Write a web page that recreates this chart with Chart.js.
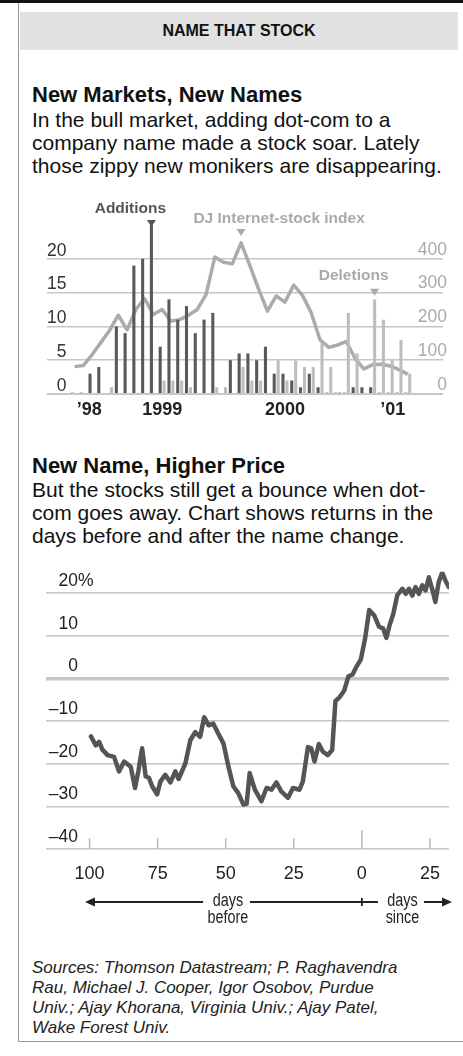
<!DOCTYPE html>
<html>
<head>
<meta charset="utf-8">
<script src="https://cdn.jsdelivr.net/npm/chart.js@4.4.1/dist/chart.umd.min.js"></script>
<style>
body { margin: 0; background: #fff; font-family: 'Liberation Sans', Arial, sans-serif; color: #111; }
#page { position: relative; width: 463px; height: 1056px; overflow: hidden; }
.abs { position: absolute; white-space: nowrap; }
#rule { left: 0; top: 0; width: 463px; height: 3px; background: #111; }
#frame { left: 18px; top: 3px; width: 445px; height: 1038px; border-left: 1px solid #999; border-bottom: 1px solid #999; }
#head { left: 20px; top: 12px; width: 438px; height: 38px; line-height: 38px; background: #e2e2e2; text-align: center; font-weight: bold; font-size: 16px; }
.title { left: 32px; font-weight: bold; font-size: 22px; line-height: 26px; }
.body { left: 32px; font-size: 21px; line-height: 23px; }
.src { left: 32px; font-style: italic; font-size: 17px; line-height: 20px; color: #222; }
</style>
</head>
<body>
<div id="page">
  <div id="rule" class="abs"></div>
  <div id="frame" class="abs"></div>
  <div id="head" class="abs">NAME THAT STOCK</div>

  <div class="abs title" style="top:82px">New Markets, New Names</div>
  <div class="abs body" style="top:108px">In the bull market, adding dot-com to a<br>company name made a stock soar. Lately<br>those zippy new monikers are disappearing.</div>
  <canvas id="bars" class="abs" width="463" height="234" style="left:0;top:190px"></canvas>

  <div class="abs title" style="top:453px">New Name, Higher Price</div>
  <div class="abs body" style="top:478px">But the stocks still get a bounce when dot-<br>com goes away. Chart shows returns in the<br>days before and after the name change.</div>
  <canvas id="returns" class="abs" width="463" height="370" style="left:0;top:560px"></canvas>

  <div class="abs src" style="top:958px">Sources: Thomson Datastream; P. Raghavendra<br>Rau, Michael J. Cooper, Igor Osobov, Purdue<br>Univ.; Ajay Khorana, Virginia Univ.; Ajay Patel,<br>Wake Forest Univ.</div>
</div>
<script>
// monthly name changes (count) and DJ Internet index, Jan 1998 - Mar 2001
const months = ['Jan 98','Feb 98','Mar 98','Apr 98','May 98','Jun 98','Jul 98','Aug 98','Sep 98','Oct 98','Nov 98','Dec 98',
    'Jan 99','Feb 99','Mar 99','Apr 99','May 99','Jun 99','Jul 99','Aug 99','Sep 99','Oct 99','Nov 99','Dec 99',
    'Jan 00','Feb 00','Mar 00','Apr 00','May 00','Jun 00','Jul 00','Aug 00','Sep 00','Oct 00','Nov 00','Dec 00',
    'Jan 01','Feb 01','Mar 01'];
const additions = [0.2,0.2,3,4,0,10,9,19,20,25,7,14,11,13,9,11,12,0,5,6,6,5,7,3,3,2,1,3,1,0.2,0.2,0.2,1,1,1,0.2,0.2,0.2,0.2];
const deletions = [0,0,0,0,1,0,0,0,0,0,2,2,2,1,0,0,1,1,0,4,2,2,0,5,2,5,4,4,7.5,4,0.3,12,6,0,14,11,5,8,3];
const djIndex = [81,84,116,152,188,233,190,250,282,235,250,215,220,233,250,294,405,390,385,447,380,310,245,290,272,322,292,240,160,138,145,155,105,74,87,88,83,72,58];
const yearTicks = [1.7, 10, 24, 36.3];
const yearLabels = ['\u201998', '1999', '2000', '\u201901'];
const countTicksMax = 20;
const indexTicksMax = 400;

// returns around the name change (days, percent)
const days = [-99.5,-97.7,-96.5,-95.3,-93.4,-91,-89.2,-87.3,-84.9,-83.3,-82.1,-80.7,-79.4,-78.2,-77,-75.2,-74,-72.2,-70.3,-68.5,
    -67.3,-64.8,-63,-61.2,-59.4,-57.9,-56.3,-54.6,-52.7,-50.8,-49,-47.2,-45.4,-43.5,-42.3,-41.2,-39.3,-36.9,-35,-33.2,
    -31.4,-29.6,-27.1,-25.3,-22.9,-21.7,-19.8,-18.6,-17.4,-15.8,-14.3,-12.5,-10.9,-9.7,-8.3,-6.5,-4.9,-3.4,-2.2,-0.4,
    1.2,2.7,4.5,6.3,7.8,9,10.2,11.5,13,14.9,16.1,17.3,18.5,19.7,20.9,22.2,23.4,24.6,25.8,27,28.2,29.5,30.7,31.9];
const returns = [-13.6,-15.7,-14.9,-16.7,-18,-18.4,-21.8,-19.5,-20.7,-25.7,-21.8,-16.4,-23,-23.3,-25.3,-27.2,-24.2,-22.6,-24.4,-21.8,
    -23.6,-19.9,-14.5,-12.6,-13.7,-9.1,-11,-10.6,-13,-15.3,-20.7,-25.3,-26.9,-29.6,-29.4,-22.2,-26.1,-28.8,-25.7,-26.1,
    -24.4,-26.5,-28,-25.7,-26.1,-24.2,-16.1,-16.4,-19.5,-15.4,-17.2,-18,-16.8,-5.3,-4.5,-2.9,0.5,0.9,2.5,4.4,
    9.4,16,14.8,12.1,11.7,9.5,12.5,15,19.5,21,19.8,21,19.4,21.4,19.8,21.8,20.6,23.7,21,17.9,22.5,24.8,22.9,21.4];
const dayTicks = [-100, -75, -50, -25, 0, 25];
const returnTicksMax = 20;

Chart.defaults.font.family = "'Liberation Sans', Arial, sans-serif";
Chart.defaults.animation = false;

function pointer(c, x, tipY, color) {
    c.fillStyle = color;
    c.beginPath();
    c.moveTo(x - 4.5, tipY - 7);
    c.lineTo(x + 4.5, tipY - 7);
    c.lineTo(x, tipY);
    c.closePath();
    c.fill();
}

const topNotes = {
    id: 'topNotes',
    afterDatasetsDraw(chart) {
        const c = chart.ctx;
        const addBar = chart.getDatasetMeta(0).data[additions.indexOf(Math.max(...additions))];
        const delBar = chart.getDatasetMeta(1).data[deletions.indexOf(Math.max(...deletions))];
        const peak = chart.getDatasetMeta(2).data[djIndex.indexOf(Math.max(...djIndex))];
        c.save();
        c.font = "bold 15.5px 'Liberation Sans', Arial, sans-serif";
        c.textAlign = 'center';
        c.textBaseline = 'middle';
        pointer(c, addBar.x, addBar.y + 2, '#555');
        c.fillText('Additions', addBar.x - 21, addBar.y - 16);
        pointer(c, peak.x, peak.y - 7, '#aaa');
        c.fillText('DJ Internet-stock index', peak.x + 38, peak.y - 24);
        pointer(c, delBar.x, delBar.y - 3.5, '#aaa');
        c.fillText('Deletions', delBar.x - 21, delBar.y - 23.5);
        c.restore();
    }
};

const bars = new Chart(document.getElementById('bars').getContext('2d'), {
    type: 'bar',
    data: {
        labels: months,
        datasets: [{
            label: 'Additions',
            data: months.map((m, i) => ({x: i, y: additions[i]})),
            backgroundColor: '#595959',
            categoryPercentage: 0.9,
            barPercentage: 0.78,
            order: 1
        }, {
            label: 'Deletions',
            data: months.map((m, i) => ({x: i, y: deletions[i]})),
            backgroundColor: '#bdbdbd',
            categoryPercentage: 0.9,
            barPercentage: 0.78,
            order: 1
        }, {
            type: 'line',
            label: 'DJ Internet-stock index',
            data: months.map((m, i) => ({x: i, y: djIndex[i]})),
            yAxisID: 'y2',
            borderColor: '#ababab',
            borderWidth: 3.5,
            pointRadius: 0,
            tension: 0,
            borderJoinStyle: 'round',
            order: 2
        }]
    },
    options: {
        responsive: false,
        layout: {padding: {left: 47, right: 12, top: 35, bottom: 2}},
        plugins: {legend: {display: false}, tooltip: {enabled: false}},
        scales: {
            x: {
                type: 'linear',
                offset: false,
                min: -3.13,
                max: 42.02,
                grid: {display: false, drawTicks: false},
                border: {display: false},
                afterBuildTicks: s => { s.ticks = yearTicks.map(v => ({value: v})); },
                afterFit: s => { s.height = 28; },
                ticks: {
                    autoSkip: false,
                    maxRotation: 0,
                    padding: 5,
                    color: '#222',
                    font: {size: 18, weight: 'bold'},
                    callback: (v, i) => yearLabels[i]
                }
            },
            y: {
                position: 'left',
                min: 0,
                max: 25,
                afterBuildTicks: s => { s.ticks = s.ticks.filter(t => t.value <= countTicksMax); },
                grid: {
                    color: '#c6c6c6',
                    lineWidth: ctx => ctx.tick && ctx.tick.value === 0 ? 2 : 1.5,
                    drawTicks: false
                },
                border: {display: false},
                ticks: {stepSize: 5, mirror: true, crossAlign: 'far', padding: 0, labelOffset: -8, color: '#333', font: {size: 17.5}}
            },
            y2: {
                position: 'right',
                min: 0,
                max: 500,
                afterBuildTicks: s => { s.ticks = s.ticks.filter(t => t.value <= indexTicksMax); },
                grid: {display: false, drawTicks: false},
                border: {display: false},
                ticks: {stepSize: 100, mirror: true, crossAlign: 'near', padding: 4, labelOffset: -9, color: '#aaa', font: {size: 17.5}}
            }
        }
    },
    plugins: [topNotes]
});

function condensedText(c, text, x, y) {
    c.save();
    c.translate(x, y);
    c.scale(0.8, 1);
    c.fillText(text, 0, 0);
    c.restore();
}

function arrowHead(c, x, y, dir) {
    c.beginPath();
    c.moveTo(x, y);
    c.lineTo(x - dir * 10, y - 4.5);
    c.lineTo(x - dir * 10, y + 4.5);
    c.closePath();
    c.fill();
}

const returnNotes = {
    id: 'returnNotes',
    afterDraw(chart) {
        const c = chart.ctx, xs = chart.scales.x, ys = chart.scales.y, area = chart.chartArea;
        c.save();
        // value labels sit above their gridlines
        c.font = "17.5px 'Liberation Sans', Arial, sans-serif";
        c.fillStyle = '#222';
        c.textBaseline = 'middle';
        ys.ticks.forEach(t => {
            const py = ys.getPixelForValue(t.value) - 12;
            c.textAlign = 'right';
            c.fillText(t.value < 0 ? '\u2013' + (-t.value) : String(t.value), area.left + 32, py);
            if (t.value === returnTicksMax) {
                c.textAlign = 'left';
                c.fillText('%', area.left + 32, py);
            }
        });
        // small tick marks standing on the axis
        c.strokeStyle = '#bbb';
        c.lineWidth = 1.5;
        xs.ticks.forEach(t => {
            const px = xs.getPixelForValue(t.value);
            c.beginPath();
            c.moveTo(px, area.bottom);
            c.lineTo(px, area.bottom - (t.value === 0 ? 19 : 11));
            c.stroke();
        });
        // days before / days since
        const ry = area.bottom + 53;
        const p = d => xs.getPixelForValue(d);
        c.strokeStyle = '#222';
        c.fillStyle = '#222';
        c.lineWidth = 1.8;
        c.beginPath();
        c.moveTo(p(-101.7) + 6, ry); c.lineTo(p(-58.3), ry);
        c.moveTo(p(-41.1), ry); c.lineTo(p(5.9), ry);
        c.moveTo(p(0), ry - 4); c.lineTo(p(0), ry + 4);
        c.moveTo(p(22.8), ry); c.lineTo(p(33.1) - 6, ry);
        c.stroke();
        arrowHead(c, p(-101.7), ry, -1);
        arrowHead(c, p(33.1), ry, 1);
        c.font = "18px 'Liberation Sans', Arial, sans-serif";
        c.textAlign = 'center';
        condensedText(c, 'days', p(-49.2), ry - 1);
        condensedText(c, 'before', p(-49.2), ry + 16);
        condensedText(c, 'days', p(14.9), ry - 1);
        condensedText(c, 'since', p(14.9), ry + 16);
        c.restore();
    }
};

const returnsChart = new Chart(document.getElementById('returns').getContext('2d'), {
    type: 'line',
    data: {
        datasets: [{
            label: 'Return',
            data: days.map((d, i) => ({x: d, y: returns[i]})),
            borderColor: '#555',
            borderWidth: 4.5,
            pointRadius: 0,
            tension: 0,
            borderJoinStyle: 'round',
            borderCapStyle: 'round'
        }]
    },
    options: {
        responsive: false,
        layout: {padding: {left: 46, right: 14, top: 11.7, bottom: 41}},
        plugins: {legend: {display: false}, tooltip: {enabled: false}},
        scales: {
            x: {
                type: 'linear',
                min: -116,
                max: 32,
                grid: {display: false, drawTicks: false},
                border: {display: false},
                afterBuildTicks: s => { s.ticks = dayTicks.map(v => ({value: v})); },
                afterFit: s => { s.height = 40; },
                ticks: {
                    autoSkip: false,
                    maxRotation: 0,
                    padding: 14,
                    color: '#222',
                    font: {size: 18},
                    callback: v => Math.abs(v)
                }
            },
            y: {
                min: -40,
                max: 25,
                afterBuildTicks: s => { s.ticks = s.ticks.filter(t => t.value <= returnTicksMax); },
                grid: {
                    color: '#c6c6c6',
                    lineWidth: ctx => ctx.tick && ctx.tick.value === 0 ? 3.5 : 1.5,
                    drawTicks: false
                },
                border: {display: false},
                ticks: {stepSize: 10, display: false}
            }
        }
    },
    plugins: [returnNotes]
});
</script>
</body>
</html>
